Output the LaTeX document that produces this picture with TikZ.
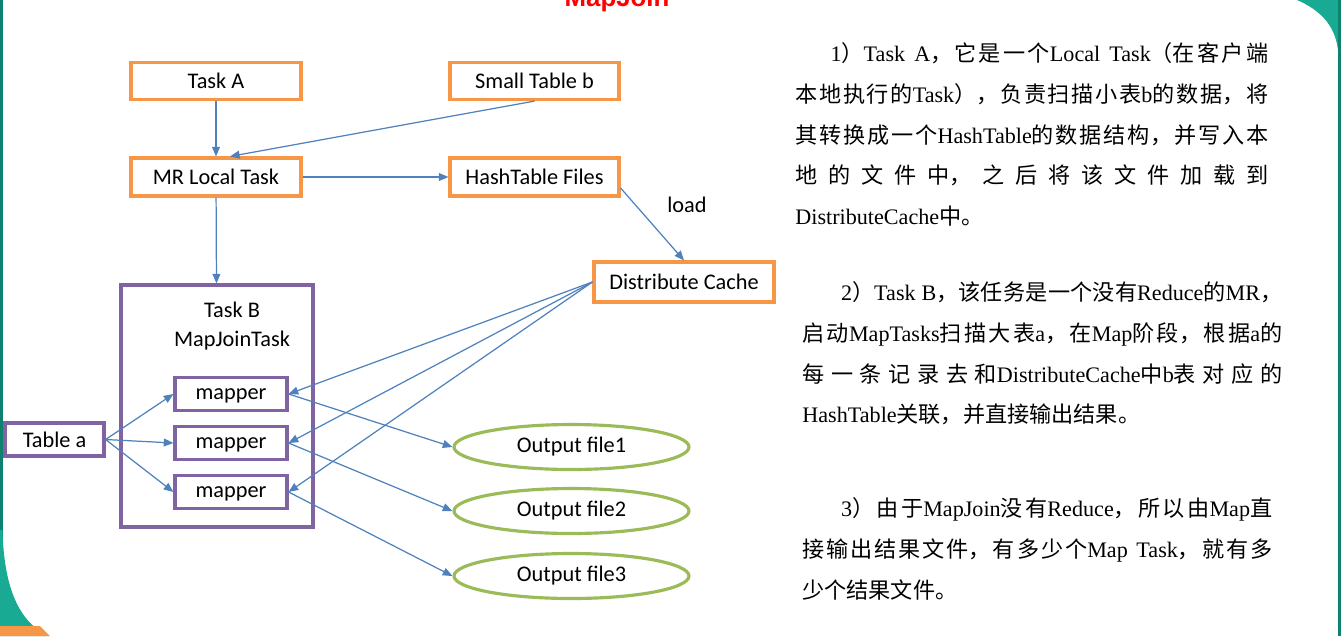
\documentclass[tikz,border=0pt]{standalone}
\usepackage{fontspec}
\setmainfont{Liberation Serif}
\newfontfamily\zhfont{Noto Sans CJK SC}
\newfontfamily\calfont{Carlito}
\newfontfamily\titlefont{Liberation Sans}
\usetikzlibrary{arrows.meta,shapes.geometric}
\definecolor{orange1}{RGB}{247,150,70}
\definecolor{purple1}{RGB}{128,100,162}
\definecolor{green1}{RGB}{155,187,89}
\definecolor{blue1}{RGB}{79,129,189}
\definecolor{teal1}{RGB}{24,170,146}
\definecolor{teal2}{RGB}{14,130,110}
\XeTeXlinebreaklocale "zh"
\XeTeXlinebreakskip=0pt plus 1pt
\newcommand{\lat}[1]{{\rmfamily #1}}
\newcommand{\diag}{\calfont\fontsize{12.7}{15.2}\selectfont}
\newcommand{\para}{\zhfont\fontsize{12.6}{23.25}\selectfont\parindent=0pt\tolerance=10000}

\begin{document}
\begin{tikzpicture}[x=0.02cm,y=-0.02cm,
  obox/.style={draw=orange1,line width=1.8pt,minimum width=3.4cm,minimum height=0.74cm,inner sep=1pt,font=\diag},
  pbox/.style={draw=purple1,line width=1.8pt,inner sep=1pt,font=\diag},
  ebox/.style={ellipse,draw=green1,line width=1.8pt,minimum width=4.7cm,minimum height=0.9cm,inner sep=1pt,font=\diag},
  arr/.style={draw=blue1,line width=0.7pt,-{Triangle[length=5.5pt,width=4.5pt]}},
  txt/.style={anchor=north west,inner sep=0pt,align=justify,font=\para}]
\useasboundingbox (0,0) rectangle (1341,636);
% slide frame
\fill[teal2] (0,0) rectangle (2.5,560);
\fill[teal1] (0,530) -- (2.5,530) .. controls (4,590) and (20,622) .. (48,636) -- (0,636) -- cycle;
\fill[orange1] (0,626) -- (40,626) -- (50,636) -- (0,636) -- cycle;
\fill[teal1] (1297,0) .. controls (1320,10) and (1335,25) .. (1338,50) -- (1341,50) -- (1341,0) -- cycle;
\fill[teal2] (1338,0) rectangle (1341,636);
\node[anchor=base,text=red,font=\titlefont\bfseries\fontsize{14.7}{16}\selectfont] (title) at (617,6) {MapJoin};

% boxes
\node[obox] (taska) at (216,81) {Task A};
\node[obox,minimum width=3.38cm] (smallb) at (534.5,81) {Small Table b};
\node[obox,minimum height=0.76cm] (mrlocal) at (216,177) {MR Local Task};
\node[obox,minimum width=3.38cm,minimum height=0.76cm] (hashf) at (534.5,177) {HashTable Files};
\node[obox,minimum width=3.6cm,minimum height=0.8cm] (dc) at (684,282) {Distribute Cache};
\node[pbox,minimum width=3.84cm,minimum height=4.84cm] (taskb) at (217,406) {};
\node[font=\diag,align=center,inner sep=0pt] (tbtext) at (232,326) {Task B\\[1pt]MapJoinTask};
\node[pbox,minimum width=1.98cm,minimum height=0.66cm] (ta) at (54.5,439.5) {Table a};
\foreach \i/\y in {1/394,2/443,3/492}
  \node[pbox,minimum width=2.24cm,minimum height=0.66cm,text depth=0pt] (m\i) at (231,\y) {mapper};
\foreach \i/\y in {1/447,2/511,3/576}
  \node[ebox] (o\i) at (571.5,\y) {Output file\i};

% arrows
\draw[arr] (taska) -- (mrlocal);
\draw[arr] (smallb.south) -- ([xshift=0.28cm]mrlocal.north);
\draw[arr] (mrlocal) -- (hashf);
\draw[arr] ([yshift=-0.22cm]hashf.east) -- (dc.north);
\node[font=\diag] (load) at (687,205) {load};
\draw[arr] (mrlocal) -- (taskb);
\foreach \i in {1,2,3} {
  \draw[arr] (ta.east) -- (m\i.west);
  \draw[arr] (dc.west) -- (m\i.east);
  \draw[arr] (m\i.east) -- (o\i.west);
}

% notes
\node[txt,text width=9.46cm] (note1) at (795,42) {\hspace*{20pt}\lat{1}）\lat{Task A}，它是一个\lat{Local Task}（在客户端\linebreak
本地执行的\lat{Task}），负责扫描小表\lat{b}的数据，将\linebreak
其转换成一个\lat{HashTable}的数据结构，并写入本\linebreak
地的文件中，之后将该文件加载到\linebreak
\lat{DistributeCache}中。};
\node[txt,text width=9.6cm] (note2) at (802,281) {\hspace*{22pt}\lat{2}）\lat{Task B}，该任务是一个没有\lat{Reduce}的\lat{MR}，\linebreak
启动\lat{MapTasks}扫描大表\lat{a}，在\lat{Map}阶段，根据\lat{a}的\linebreak
每一条记录去和\lat{DistributeCache}中\lat{b}表对应的\linebreak
\lat{HashTable}关联，并直接输出结果。};
\node[txt,text width=9.4cm] (note3) at (802,497) {\hspace*{22pt}\lat{3}）由于\lat{MapJoin}没有\lat{Reduce}，所以由\lat{Map}直\linebreak
接输出结果文件，有多少个\lat{Map Task}，就有多\linebreak
少个结果文件。};
\end{tikzpicture}
\end{document}
